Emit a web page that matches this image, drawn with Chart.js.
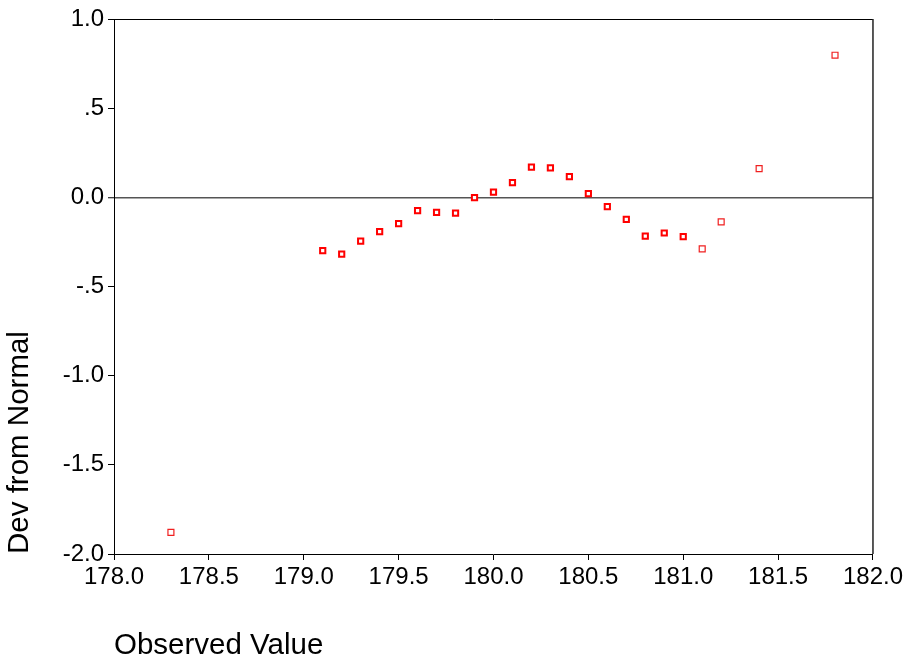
<!DOCTYPE html>
<html>
<head>
<meta charset="utf-8">
<script src="https://cdn.jsdelivr.net/npm/chart.js@4/dist/chart.umd.min.js"></script>
<style>
  html, body { margin: 0; padding: 0; background: #fff; }
  #wrap { width: 906px; height: 666px; }
</style>
</head>
<body>
<div id="wrap"><canvas id="c" width="906" height="666"></canvas></div>
<script>
// Observed values (x) and deviation from normal (y)
const observed = [178.3, 179.1, 179.2, 179.3, 179.4, 179.5, 179.6, 179.7, 179.8, 179.9,
                  180.0, 180.1, 180.2, 180.3, 180.4, 180.5, 180.6, 180.7, 180.8, 180.9,
                  181.0, 181.1, 181.2, 181.4, 181.8];
const devFromNormal = [-1.879, -0.299, -0.319, -0.246, -0.192, -0.147, -0.075, -0.084, -0.089, -0.002,
                       0.029, 0.082, 0.170, 0.165, 0.116, 0.021, -0.052, -0.123, -0.218, -0.200,
                       -0.220, -0.289, -0.138, 0.161, 0.797];
// observations that are single (thin marker) vs repeated (bold marker)
const repeated = [false, true, true, true, true, true, true, true, true, true,
                  true, true, true, true, true, true, true, true, true, true,
                  true, false, false, false, false];
const xTickLabels = ['178.0', '178.5', '179.0', '179.5', '180.0', '180.5', '181.0', '181.5', '182.0'];
const xTickValues = [178.0, 178.5, 179.0, 179.5, 180.0, 180.5, 181.0, 181.5, 182.0];
const yTickLabels = ['-2.0', '-1.5', '-1.0', '-.5', '0.0', '.5', '1.0'];
const yTickValues = [-2.0, -1.5, -1.0, -0.5, 0.0, 0.5, 1.0];

const boldPts = [], thinPts = [];
observed.forEach((x, i) => {
  (repeated[i] ? boldPts : thinPts).push({ x: x, y: devFromNormal[i] });
});

const frame = {
  id: 'frame',
  afterDatasetsDraw(chart) {
    const a = chart.chartArea, ctx = chart.ctx;
    ctx.save();
    ctx.strokeStyle = '#000';
    ctx.lineWidth = 1;
    ctx.beginPath();
    ctx.moveTo(a.left, a.top + 0.5);
    ctx.lineTo(a.right, a.top + 0.5);
    ctx.stroke();
    ctx.lineWidth = 1.5;
    ctx.strokeStyle = '#222';
    ctx.beginPath();
    ctx.moveTo(a.right, a.top);
    ctx.lineTo(a.right, a.bottom);
    ctx.stroke();
    ctx.restore();
  }
};

const font = "'Liberation Sans', Arial, sans-serif";

new Chart(document.getElementById('c'), {
  type: 'scatter',
  data: {
    datasets: [
      { data: boldPts, pointStyle: 'rect', pointRadius: 3.7, borderWidth: 2,
        borderColor: '#ff0000', backgroundColor: '#ffffff', pointHoverRadius: 3.7 },
      { data: thinPts, pointStyle: 'rect', pointRadius: 4.2, borderWidth: 1.2,
        borderColor: '#f02020', backgroundColor: '#ffffff', pointHoverRadius: 4.2 }
    ]
  },
  options: {
    responsive: false,
    animation: false,
    events: [],
    layout: { padding: { top: 19, right: 33, left: 0, bottom: 0 } },
    plugins: { legend: { display: false }, tooltip: { enabled: false } },
    scales: {
      x: {
        type: 'linear', min: 178, max: 182,
        afterFit: s => { s.height = 112; },
        afterBuildTicks: s => { s.ticks = xTickValues.map(v => ({ value: v })); },
        ticks: {
          color: '#000', font: { family: font, size: 24 }, padding: 3, maxRotation: 0,
          callback: (v) => { const i = xTickValues.indexOf(v); return i >= 0 ? xTickLabels[i] : ''; }
        },
        grid: { display: true, drawOnChartArea: false, tickLength: 6, tickColor: '#000', tickWidth: 1 },
        border: { display: true, color: '#000', width: 1 },
        title: { display: true, text: 'Observed Value', align: 'start', color: '#000',
                 font: { family: font, size: 29.5 }, padding: { top: 0, bottom: 2 } }
      },
      y: {
        type: 'linear', min: -2, max: 1,
        afterFit: s => { s.width = 114; },
        afterBuildTicks: s => { s.ticks = yTickValues.map(v => ({ value: v })); },
        ticks: {
          color: '#000', font: { family: font, size: 24 }, padding: 4,
          callback: (v) => { const i = yTickValues.indexOf(v); return i >= 0 ? yTickLabels[i] : ''; }
        },
        grid: {
          display: true, drawOnChartArea: true, tickLength: 6, tickColor: '#000', tickWidth: 1,
          color: ctx => (ctx.tick && ctx.tick.value === 0) ? '#555' : 'rgba(0,0,0,0)',
          lineWidth: ctx => (ctx.tick && ctx.tick.value === 0) ? 1.5 : 1
        },
        border: { display: true, color: '#000', width: 1 },
        title: { display: true, text: 'Dev from Normal', align: 'start', color: '#000',
                 font: { family: font, size: 29.5 }, padding: { top: 2, bottom: 0 } }
      }
    }
  },
  plugins: [frame]
});
</script>
</body>
</html>
